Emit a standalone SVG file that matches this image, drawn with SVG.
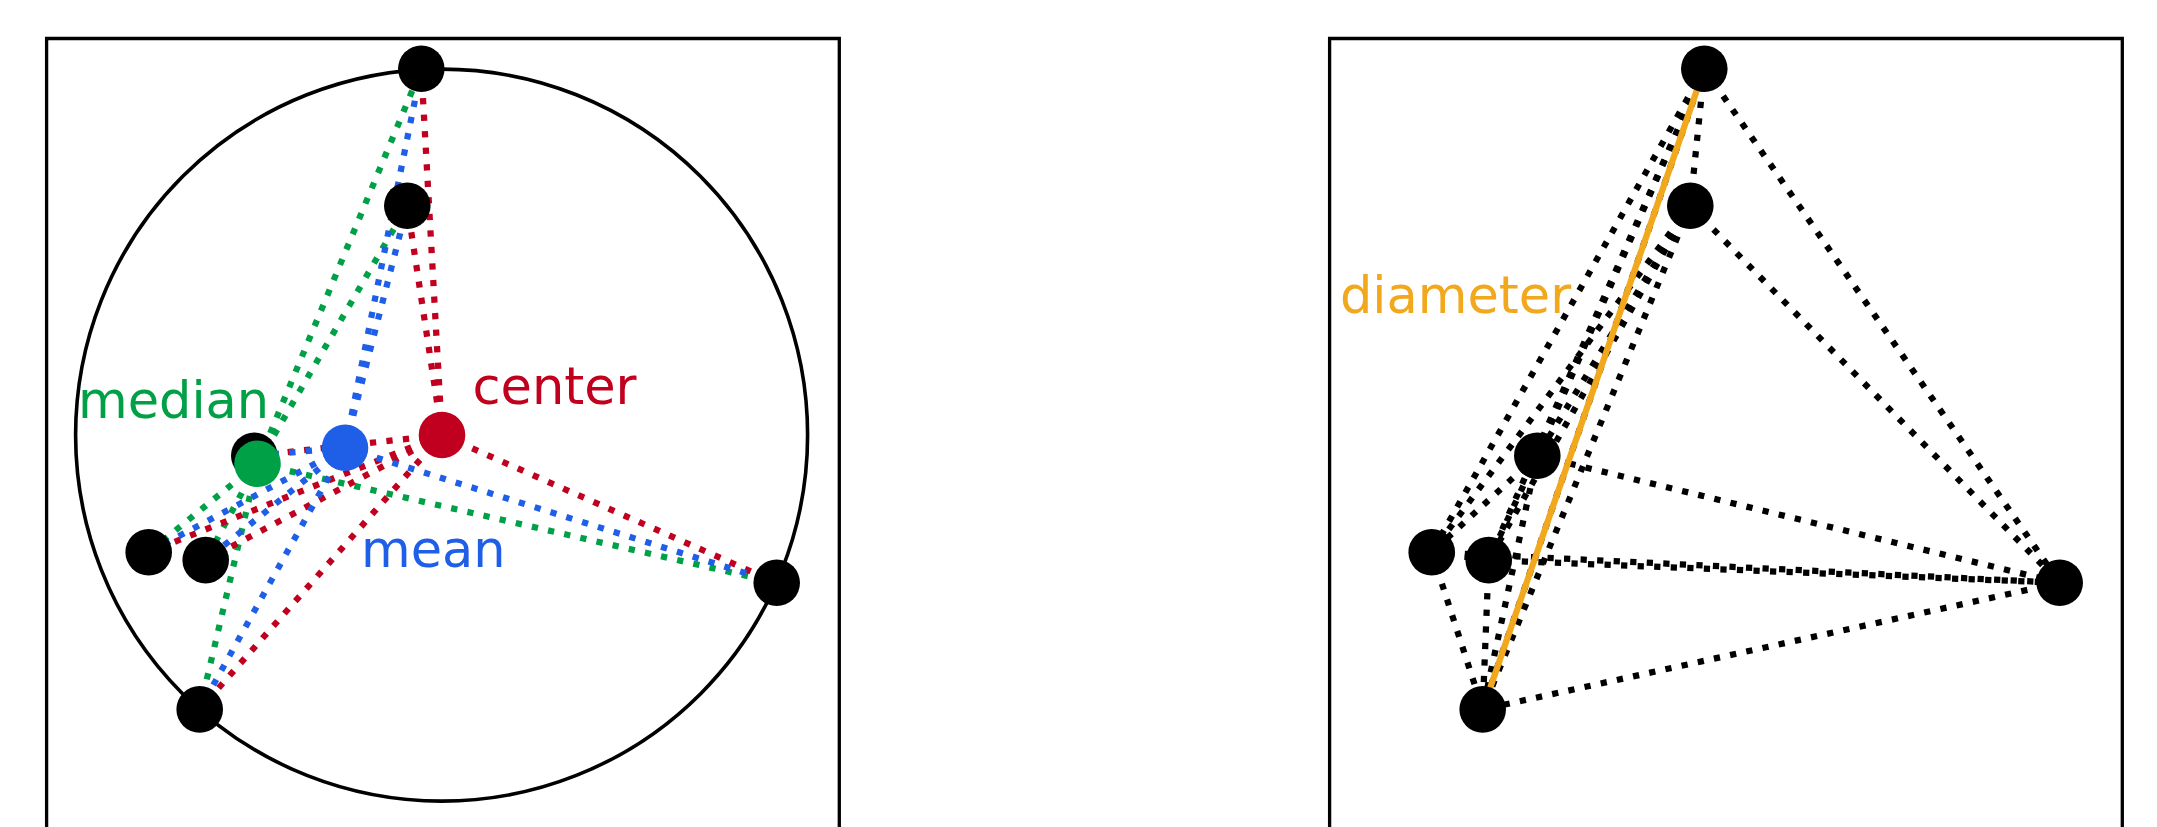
<svg xmlns="http://www.w3.org/2000/svg" width="2157" height="827" viewBox="0 0 2157 827">
<style>
.frame{fill:none;stroke:#000;stroke-width:3.3}
.circ{fill:none;stroke:#000;stroke-width:3.6}
.dot{fill:#000}
.dl{fill:none;stroke-width:6.25;stroke-dasharray:6.25 10.31;stroke-linecap:butt}
.g{stroke:#00a046}
.b{stroke:#1f5fe8}
.r{stroke:#c0001e}
.k{stroke:#000}
.dia{fill:none;stroke:#f2a81c;stroke-width:6.25}
.lbl{font-family:"DejaVu Sans",sans-serif;font-size:51px}
</style>
<rect width="2157" height="827" fill="#fff"/>
<g id="frames">
<path class="frame" d="M46.6,840 V38.5 H839.3 V840"/>
<path class="frame" d="M1329.6,840 V38.5 H2122.3 V840"/>
</g>
<g id="enclosing-circle"><circle class="circ" cx="441.6" cy="435.1" r="366"/></g>
<g id="connectors">
<g id="median-lines" class="dl g">
<line x1="257.5" y1="463.7" x2="421.3" y2="68.8"/>
<line x1="257.5" y1="463.7" x2="407.3" y2="205.8"/>
<line x1="257.5" y1="463.7" x2="254.3" y2="455.7"/>
<line x1="257.5" y1="463.7" x2="148.7" y2="552.2"/>
<line x1="257.5" y1="463.7" x2="205.7" y2="560.1"/>
<line x1="257.5" y1="463.7" x2="776.7" y2="582.8"/>
<line x1="257.5" y1="463.7" x2="199.7" y2="709.4"/>
</g>
<g id="center-lines" class="dl r">
<line x1="442" y1="435" x2="421.3" y2="68.8"/>
<line x1="442" y1="435" x2="407.3" y2="205.8"/>
<line x1="442" y1="435" x2="254.3" y2="455.7"/>
<line x1="442" y1="435" x2="148.7" y2="552.2"/>
<line x1="442" y1="435" x2="205.7" y2="560.1"/>
<line x1="442" y1="435" x2="776.7" y2="582.8"/>
<line x1="442" y1="435" x2="199.7" y2="709.4"/>
</g>
<g id="mean-lines" class="dl b">
<line x1="345" y1="447.8" x2="421.3" y2="68.8"/>
<line x1="345" y1="447.8" x2="407.3" y2="205.8"/>
<line x1="345" y1="447.8" x2="254.3" y2="455.7"/>
<line x1="345" y1="447.8" x2="148.7" y2="552.2"/>
<line x1="345" y1="447.8" x2="205.7" y2="560.1"/>
<line x1="345" y1="447.8" x2="776.7" y2="582.8"/>
<line x1="345" y1="447.8" x2="199.7" y2="709.4"/>
</g>
<g id="pair-lines" class="dl k">
<line x1="1704.3" y1="68.8" x2="1690.3" y2="205.8"/>
<line x1="1704.3" y1="68.8" x2="1537.3" y2="455.7"/>
<line x1="1704.3" y1="68.8" x2="1431.7" y2="552.2"/>
<line x1="1704.3" y1="68.8" x2="1488.7" y2="560.1"/>
<line x1="1704.3" y1="68.8" x2="2059.7" y2="582.8"/>
<line x1="1704.3" y1="68.8" x2="1482.7" y2="709.4"/>
<line x1="1690.3" y1="205.8" x2="1537.3" y2="455.7"/>
<line x1="1690.3" y1="205.8" x2="1431.7" y2="552.2"/>
<line x1="1690.3" y1="205.8" x2="1488.7" y2="560.1"/>
<line x1="1690.3" y1="205.8" x2="2059.7" y2="582.8"/>
<line x1="1690.3" y1="205.8" x2="1482.7" y2="709.4"/>
<line x1="1537.3" y1="455.7" x2="1431.7" y2="552.2"/>
<line x1="1537.3" y1="455.7" x2="1488.7" y2="560.1"/>
<line x1="1537.3" y1="455.7" x2="2059.7" y2="582.8"/>
<line x1="1537.3" y1="455.7" x2="1482.7" y2="709.4"/>
<line x1="1431.7" y1="552.2" x2="1488.7" y2="560.1"/>
<line x1="1431.7" y1="552.2" x2="2059.7" y2="582.8"/>
<line x1="1431.7" y1="552.2" x2="1482.7" y2="709.4"/>
<line x1="1488.7" y1="560.1" x2="2059.7" y2="582.8"/>
<line x1="1488.7" y1="560.1" x2="1482.7" y2="709.4"/>
<line x1="2059.7" y1="582.8" x2="1482.7" y2="709.4"/>
</g>
<line id="diameter-line" class="dia" x1="1704.3" y1="68.8" x2="1482.7" y2="709.4"/>
</g>
<g id="left-points" class="dot">
<circle id="lp1" cx="421.3" cy="68.8" r="23.3"/>
<circle id="lp2" cx="407.3" cy="205.8" r="23.3"/>
<circle id="lp3" cx="254.3" cy="455.7" r="23.3"/>
<circle id="lp4" cx="148.7" cy="552.2" r="23.3"/>
<circle id="lp5" cx="205.7" cy="560.1" r="23.3"/>
<circle id="lp6" cx="776.7" cy="582.8" r="23.3"/>
<circle id="lp7" cx="199.7" cy="709.4" r="23.3"/>
</g>
<g id="median"><circle cx="257.5" cy="463.7" r="23.3" fill="#00a046"/><text class="lbl" x="78" y="417.7" fill="#00a046">median</text></g>
<g id="mean"><circle cx="345" cy="447.8" r="23.3" fill="#1f5fe8"/><text class="lbl" x="361" y="566.7" fill="#1f5fe8">mean</text></g>
<g id="center"><circle cx="442" cy="435" r="23.3" fill="#c0001e"/><text class="lbl" x="472.5" y="404.3" fill="#c0001e">center</text></g>
<g id="right-points" class="dot">
<circle id="rp1" cx="1704.3" cy="68.8" r="23.3"/>
<circle id="rp2" cx="1690.3" cy="205.8" r="23.3"/>
<circle id="rp3" cx="1537.3" cy="455.7" r="23.3"/>
<circle id="rp4" cx="1431.7" cy="552.2" r="23.3"/>
<circle id="rp5" cx="1488.7" cy="560.1" r="23.3"/>
<circle id="rp6" cx="2059.7" cy="582.8" r="23.3"/>
<circle id="rp7" cx="1482.7" cy="709.4" r="23.3"/>
</g>
<g id="diameter-label"><text class="lbl" x="1340" y="312.7" fill="#f2a81c">diameter</text></g>
</svg>
